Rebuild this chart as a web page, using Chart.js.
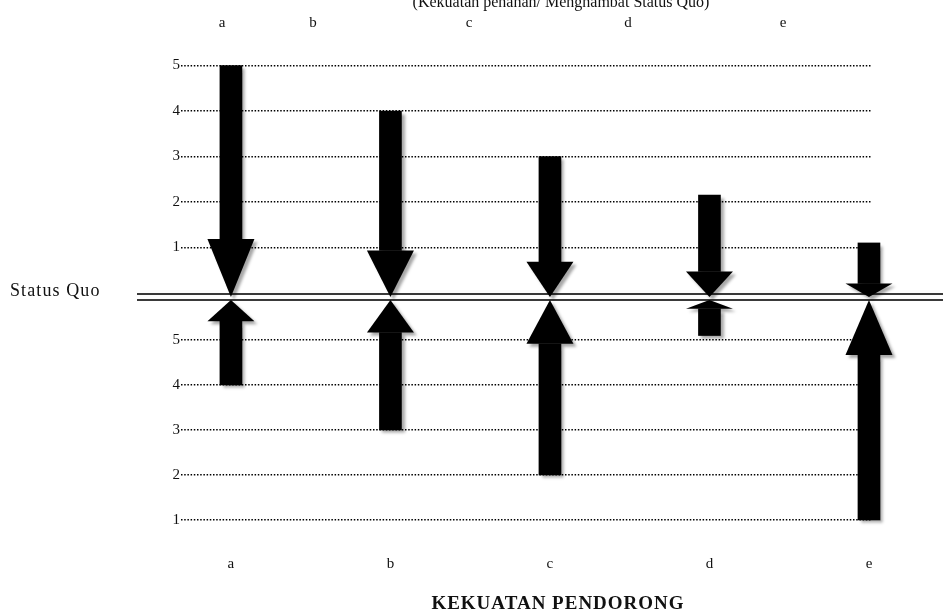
<!DOCTYPE html>
<html>
<head>
<meta charset="utf-8">
<script src="https://cdn.jsdelivr.net/npm/chart.js@4.4.0/dist/chart.umd.min.js"></script>
<style>
  html, body { margin: 0; padding: 0; background: #fff; }
  #wrap { width: 943px; height: 615px; }
</style>
</head>
<body>
<div id="wrap"><canvas id="chart"></canvas></div>
<script>
// data
const categories = ['a', 'b', 'c', 'd', 'e'];
const topLabels = ['a', 'b', 'c', 'd', 'e'];
const penahan = [5, 4, 3, 2.15, 1.1];     // arrows from above, pushing down on status quo
const pendorong = [4, 3, 2, 5.1, 1];      // arrows from below, pushing up on status quo
const upperTicks = [1, 2, 3, 4, 5];
const lowerTicks = [1, 2, 3, 4, 5];
const topTitle = '(Kekuatan penahan/ Menghambat Status Quo)';
const xTitle = 'KEKUATAN PENDORONG';
const statusQuoLabel = 'Status Quo';

// axis ranges
const UP_MIN = -0.088, UP_MAX = 5.23;      // upper scale, 0 sits just above status quo
const DOWN_MIN = 0.778, DOWN_MAX = 5.956;  // lower scale, 5 nearest the status quo
const DOWN_TIP = 5.89;
const HEAD = 0.25;                          // head length as share of arrow length
const HEAD_W = 47;
const serif = '"Liberation Serif", "DejaVu Serif", serif';

const upperData = penahan.map((v, i) => ({ x: i, y: [UP_MIN + HEAD * (v - UP_MIN), v] }));
const lowerData = pendorong.map((v, i) => ({ x: i, y: [v, DOWN_TIP - HEAD * (DOWN_TIP - v)] }));

const arrowPlugin = {
  id: 'arrows',
  beforeDatasetsDraw(chart) {
    const { ctx } = chart;
    const sq = chart.scales.yUp.bottom;
    ctx.save();
    ctx.strokeStyle = '#3a3a3a';
    ctx.lineWidth = 1.8;
    [sq - 3, sq + 3].forEach(y => {
      ctx.beginPath();
      ctx.moveTo(137, y);
      ctx.lineTo(chart.width, y);
      ctx.stroke();
    });
    ctx.restore();
    ctx.save();
    ctx.shadowColor = 'rgba(0,0,0,0.35)';
    ctx.shadowOffsetX = 3;
    ctx.shadowOffsetY = 3;
    ctx.shadowBlur = 3;
  },
  afterDatasetsDraw(chart) {
    const { ctx } = chart;
    const x = chart.scales.x, yUp = chart.scales.yUp, yDown = chart.scales.yDown;
    ctx.fillStyle = '#000';
    penahan.forEach((v, i) => {
      const px = x.getPixelForValue(i);
      const base = yUp.getPixelForValue(upperData[i].y[0]);
      const tip = yUp.bottom;
      ctx.beginPath();
      ctx.moveTo(px - HEAD_W / 2, base);
      ctx.lineTo(px + HEAD_W / 2, base);
      ctx.lineTo(px, tip);
      ctx.closePath();
      ctx.fill();
    });
    pendorong.forEach((v, i) => {
      const px = x.getPixelForValue(i);
      const base = yDown.getPixelForValue(lowerData[i].y[1]);
      const tip = yDown.getPixelForValue(DOWN_TIP);
      ctx.beginPath();
      ctx.moveTo(px - HEAD_W / 2, base);
      ctx.lineTo(px + HEAD_W / 2, base);
      ctx.lineTo(px, tip);
      ctx.closePath();
      ctx.fill();
    });
    ctx.restore();
  },
  afterDraw(chart) {
    const { ctx } = chart;
    ctx.save();
    ctx.fillStyle = '#111';
    ctx.font = '16px ' + serif;
    ctx.textAlign = 'center';
    ctx.textBaseline = 'alphabetic';
    ctx.fillText(topTitle, 561, 7);
    ctx.font = 'bold 19px ' + serif;
    ctx.letterSpacing = '1px';
    ctx.textBaseline = 'middle';
    ctx.fillText(xTitle, 558, 604);
    ctx.font = '18px ' + serif;
    ctx.letterSpacing = '1.1px';
    ctx.textAlign = 'left';
    ctx.fillText(statusQuoLabel, 10, chart.scales.yUp.bottom - 6);
    ctx.restore();
  }
};

const dotted = {
  color: '#000',
  lineWidth: 1.5,
  drawTicks: false
};
const dottedBorder = { display: false, dash: [1.5, 1.7] };

new Chart(document.getElementById('chart'), {
  type: 'bar',
  data: {
    datasets: [
      { label: 'Penahan', yAxisID: 'yUp', data: upperData, backgroundColor: '#000', barThickness: 22, grouped: false, clip: false },
      { label: 'Pendorong', yAxisID: 'yDown', data: lowerData, backgroundColor: '#000', barThickness: 22, grouped: false, clip: false }
    ]
  },
  options: {
    responsive: true,
    maintainAspectRatio: false,
    animation: false,
    layout: { padding: { left: 161, right: 71, top: 15, bottom: 0 } },
    plugins: { legend: { display: false }, tooltip: { enabled: false } },
    scales: {
      x: {
        type: 'linear',
        position: 'bottom',
        offset: false,
        min: -0.313,
        max: 4.019,
        grid: { display: false },
        border: { display: false },
        afterBuildTicks: s => { s.ticks = categories.map((c, i) => ({ value: i })); },
        afterFit: s => { s.height = 85; },
        ticks: {
          padding: 17,
          color: '#111',
          font: { family: serif, size: 15 },
          callback: v => categories[v]
        }
      },
      xTop: {
        type: 'linear',
        position: 'top',
        offset: false,
        min: -0.313,
        max: 4.019,
        grid: { display: false },
        border: { display: false },
        afterBuildTicks: s => {
          const at = [-0.056, 0.515, 1.493, 2.49, 3.461];
          s.ticks = topLabels.map((c, i) => ({ value: at[i] }));
        },
        afterFit: s => { s.height = 40; },
        ticks: {
          padding: 15,
          color: '#111',
          font: { family: serif, size: 15 },
          callback: (v, i) => topLabels[i]
        }
      },
      yDown: {
        type: 'linear',
        position: 'left',
        stack: 'force',
        stackWeight: 233,
        min: DOWN_MIN,
        max: DOWN_MAX,
        grid: dotted,
        border: dottedBorder,
        afterBuildTicks: s => { s.ticks = lowerTicks.map(v => ({ value: v })); },
        afterFit: s => { s.width = 20; },
        ticks: { padding: 1, color: '#111', font: { family: serif, size: 15 }, callback: v => String(v) }
      },
      yUp: {
        type: 'linear',
        position: 'left',
        stack: 'force',
        stackWeight: 242,
        min: UP_MIN,
        max: UP_MAX,
        grid: dotted,
        border: dottedBorder,
        afterBuildTicks: s => { s.ticks = upperTicks.map(v => ({ value: v })); },
        afterFit: s => { s.width = 20; },
        ticks: { padding: 1, color: '#111', font: { family: serif, size: 15 }, callback: v => String(v) }
      }
    }
  },
  plugins: [arrowPlugin]
});
</script>
</body>
</html>
